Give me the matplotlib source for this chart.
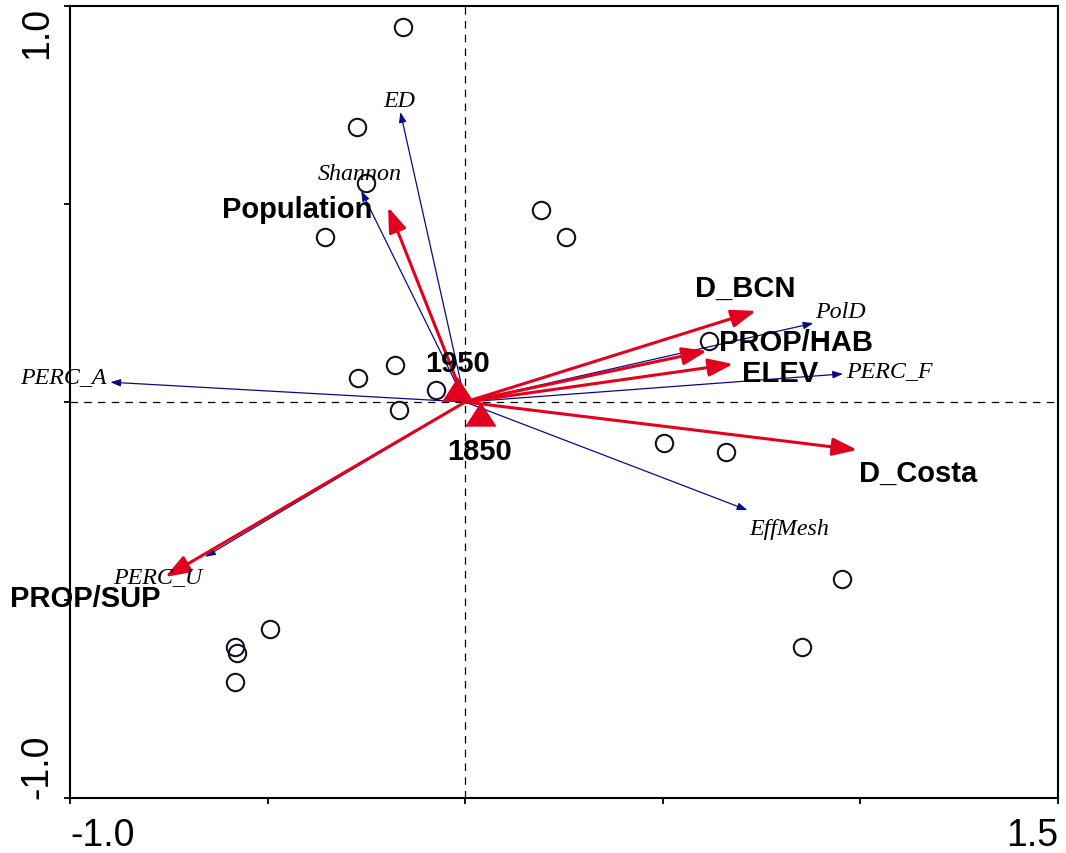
import matplotlib
matplotlib.use("Agg")
import matplotlib.pyplot as plt

# ---- data ----
site_x = [-0.157, -0.273, -0.251, -0.354, 0.192, 0.256, 0.617, -0.177, -0.271, -0.073,
          -0.167, 0.504, 0.660, 0.954, 0.853, -0.493, -0.582, -0.577, -0.582]
site_y = [0.947, 0.694, 0.553, 0.417, 0.485, 0.417, 0.154, 0.093, 0.061, 0.030,
          -0.020, -0.104, -0.126, -0.447, -0.619, -0.573, -0.619, -0.634, -0.707]

period_names = ["1950", "1850"]
period_x = [-0.020, 0.038]
period_y = [0.033, -0.030]

resp_names = ["ED", "Shannon", "PolD", "PERC_F", "PERC_A", "PERC_U", "EffMesh"]
resp_x = [-0.164, -0.263, 0.881, 0.956, -0.898, -0.658, 0.714]
resp_y = [0.732, 0.533, 0.199, 0.071, 0.050, -0.391, -0.273]

expl_names = ["Population", "D_BCN", "PROP/HAB", "ELEV", "D_Costa", "PROP/SUP"]
expl_x = [-0.195, 0.736, 0.612, 0.678, 0.992, -0.759]
expl_y = [0.492, 0.230, 0.129, 0.096, -0.121, -0.442]

xticks = [-1.0, -0.5, 0.0, 0.5, 1.0, 1.5]
xtick_labels = ["-1.0", "", "", "", "", "1.5"]
yticks = [-1.0, -0.5, 0.0, 0.5, 1.0]
ytick_labels = ["-1.0", "", "", "", "1.0"]

# ---- label placement (data coords of text anchors) ----
resp_lab = {
    "ED": (-0.167, 0.747, "center"),
    "Shannon": (-0.266, 0.563, "center"),
    "PolD": (0.886, 0.215, "left"),
    "PERC_F": (0.964, 0.066, "left"),
    "PERC_A": (-0.908, 0.0505, "right"),
    "PERC_U": (-0.779, -0.455, "center"),
    "EffMesh": (0.820, -0.333, "center"),
}
expl_lab = {
    "Population": (-0.235, 0.467, "right"),
    "D_BCN": (0.709, 0.268, "center"),
    "PROP/HAB": (0.643, 0.131, "left"),
    "ELEV": (0.701, 0.053, "left"),
    "D_Costa": (0.997, -0.199, "left"),
    "PROP/SUP": (-1.151, -0.515, "left"),
}
period_lab = {"1950": (-0.020, 0.078), "1850": (0.035, -0.144)}

RED = "#E2001F"
BLUE = "#0A0A85"

fig = plt.figure(figsize=(10.66, 8.54), dpi=100)
ax = fig.add_axes([70 / 1066, 55 / 854, 988 / 1066, 792 / 854])
ax.set_xlim(-1.0, 1.5)
ax.set_ylim(-1.0, 1.0)

ax.axhline(0, color="black", lw=0.9, ls=(0, (6, 5)), zorder=1)
ax.axvline(0, color="black", lw=0.9, ls=(0, (6, 5)), zorder=1)

# response (blue) arrows
for n, x, y in zip(resp_names, resp_x, resp_y):
    ax.annotate("", xy=(x, y), xytext=(0, 0),
                arrowprops=dict(arrowstyle="-|>,head_length=0.6,head_width=0.22",
                                mutation_scale=10, color=BLUE, lw=0.9,
                                shrinkA=0, shrinkB=0), zorder=3)
    lx, ly, ha = resp_lab[n]
    ax.text(lx, ly, n, ha=ha, va="baseline", fontsize=17.3, style="italic",
            family="Liberation Serif", color="black", zorder=6)

# explanatory (red) arrows
for n, x, y in zip(expl_names, expl_x, expl_y):
    ax.annotate("", xy=(x, y), xytext=(0, 0),
                arrowprops=dict(arrowstyle="-|>,head_length=0.75,head_width=0.27",
                                mutation_scale=20, color=RED, lw=2.2,
                                shrinkA=0, shrinkB=0), zorder=4)
    lx, ly, ha = expl_lab[n]
    ax.text(lx, ly, n, ha=ha, va="baseline", fontsize=21, fontweight="bold",
            family="Liberation Sans", color="black", zorder=7)

# sites
ax.plot(site_x, site_y, ls="none", marker="o", ms=12.5, mfc="none",
        mec="#111122", mew=1.5, zorder=5)

# periods (triangles)
tri = [(-1, -0.77), (1, -0.77), (0, 0.77)]
ax.plot(period_x, period_y, ls="none", marker=tri, ms=21.5, color=RED,
        mec=RED, zorder=6)
for n in period_names:
    lx, ly = period_lab[n]
    ax.text(lx, ly, n, ha="center", va="baseline", fontsize=21, fontweight="bold",
            family="Liberation Sans", color="black", zorder=7)

# axes styling
for s in ax.spines.values():
    s.set_linewidth(1.5)
    s.set_color("black")
ax.set_xticks(xticks)
ax.set_xticklabels(xtick_labels)
ax.set_yticks(yticks)
ax.set_yticklabels(ytick_labels, rotation=90)
ax.tick_params(direction="out", length=4.5, width=1.3, labelsize=27)
ax.tick_params(axis="x", pad=9)
ax.tick_params(axis="y", pad=6)
xl = ax.get_xticklabels()
for t in xl:
    t.set_family("Liberation Sans")
xl[0].set_ha("left")
xl[-1].set_ha("right")
yl = ax.get_yticklabels()
for t in yl:
    t.set_family("Liberation Sans")
yl[0].set_va("bottom")
yl[-1].set_va("top")

fig.savefig("out.png", dpi=100)
